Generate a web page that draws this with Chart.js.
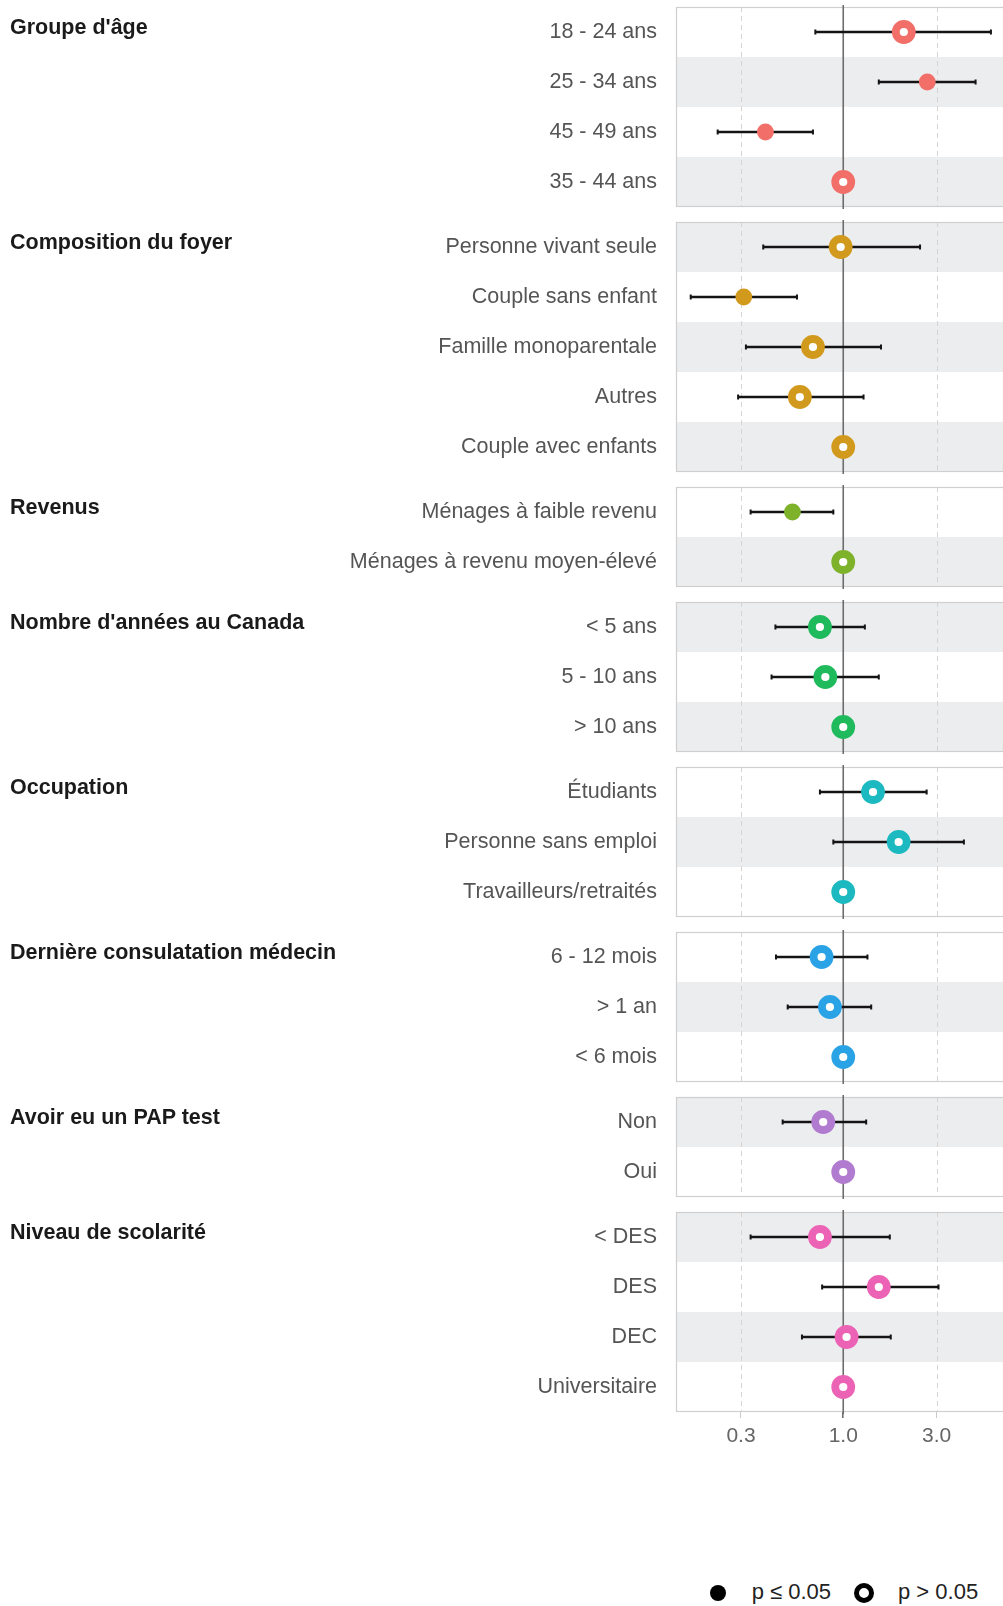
<!DOCTYPE html>
<html>
<head>
<meta charset="utf-8">
<script src="https://cdn.jsdelivr.net/npm/chart.js@4/dist/chart.umd.min.js"></script>
<style>
  html, body { margin: 0; padding: 0; background: #fff; }
  body { width: 1003px; height: 1606px; position: relative; overflow: hidden;
         font-family: "Liberation Sans", Arial, Helvetica, sans-serif; }
  .panel { position: absolute; left: 0; width: 1003px; }
  .panel canvas { display: block; }
  .group-title { position: absolute; left: 10px; font-weight: bold; font-size: 21.5px;
                 line-height: 25px; color: #1a1a1a; white-space: nowrap; }
  .legend-text { position: absolute; font-size: 22px; line-height: 24px; color: #222; white-space: nowrap; }
  .legend-key { position: absolute; border-radius: 50%; box-sizing: border-box; }
</style>
</head>
<body>
<script>
// ---- Group headings ----
const groupTitles = [
  "Groupe d'âge",
  "Composition du foyer",
  "Revenus",
  "Nombre d'années au Canada",
  "Occupation",
  "Dernière consulatation médecin",
  "Avoir eu un PAP test",
  "Niveau de scolarité"
];

// ---- Odds ratios with 95% confidence limits (reference level: no interval) ----
const ageLabels = ['18 - 24 ans', '25 - 34 ans', '45 - 49 ans', '35 - 44 ans'];
const ageRatio  = [2.04, 2.69, 0.40, 1.0];
const ageLow    = [0.72, 1.52, 0.228, null];
const ageHigh   = [5.69, 4.75, 0.70, null];
const ageSignif = [false, true, true, false];

const foyerLabels = ['Personne vivant seule', 'Couple sans enfant', 'Famille monoparentale', 'Autres', 'Couple avec enfants'];
const foyerRatio  = [0.97, 0.31, 0.70, 0.60, 1.0];
const foyerLow    = [0.39, 0.166, 0.318, 0.29, null];
const foyerHigh   = [2.47, 0.58, 1.56, 1.27, null];
const foyerSignif = [false, true, false, false, false];

const revenuLabels = ['Ménages à faible revenu', 'Ménages à revenu moyen-élevé'];
const revenuRatio  = [0.55, 1.0];
const revenuLow    = [0.336, null];
const revenuHigh   = [0.89, null];
const revenuSignif = [true, false];

const canadaLabels = ['< 5 ans', '5 - 10 ans', '> 10 ans'];
const canadaRatio  = [0.76, 0.81, 1.0];
const canadaLow    = [0.45, 0.43, null];
const canadaHigh   = [1.29, 1.52, null];
const canadaSignif = [false, false, false];

const occupLabels = ['Étudiants', 'Personne sans emploi', 'Travailleurs/retraités'];
const occupRatio  = [1.42, 1.92, 1.0];
const occupLow    = [0.76, 0.89, null];
const occupHigh   = [2.67, 4.14, null];
const occupSignif = [false, false, false];

const consultLabels = ['6 - 12 mois', '> 1 an', '< 6 mois'];
const consultRatio  = [0.775, 0.855, 1.0];
const consultLow    = [0.453, 0.52, null];
const consultHigh   = [1.33, 1.39, null];
const consultSignif = [false, false, false];

const papLabels = ['Non', 'Oui'];
const papRatio  = [0.79, 1.0];
const papLow    = [0.49, null];
const papHigh   = [1.31, null];
const papSignif = [false, false];

const scolLabels = ['< DES', 'DES', 'DEC', 'Universitaire'];
const scolRatio  = [0.76, 1.52, 1.04, 1.0];
const scolLow    = [0.336, 0.78, 0.615, null];
const scolHigh   = [1.73, 3.07, 1.75, null];
const scolSignif = [false, false, false, false];

// ---- Axis ticks and legend ----
const xTickValues = [0.3, 1, 3];
const xTickLabels = ['0.3', '1.0', '3.0'];
const legendLabels = ['p ≤ 0.05', 'p > 0.05'];

// ---- Layout / style settings ----
const FONT = '"Liberation Sans", Arial, Helvetica, sans-serif';
const X_MIN = 0.1396, X_MAX = 6.56;   // log-scale limits of the plotting strip
const PLOT_LEFT = 676;
const ROW = 50, GAP = 15, FIRST_TOP = 7, PAD = 3, AXIS_H = 40;
const STRIPE = '#ecedef';

const panels = [
  { title: groupTitles[0], labels: ageLabels,     ratio: ageRatio,     low: ageLow,     high: ageHigh,     signif: ageSignif,     color: '#f26f69', shade: [0, 1, 0, 1] },
  { title: groupTitles[1], labels: foyerLabels,   ratio: foyerRatio,   low: foyerLow,   high: foyerHigh,   signif: foyerSignif,   color: '#d29a1c', shade: [1, 0, 1, 0, 1] },
  { title: groupTitles[2], labels: revenuLabels,  ratio: revenuRatio,  low: revenuLow,  high: revenuHigh,  signif: revenuSignif,  color: '#7db22a', shade: [0, 1] },
  { title: groupTitles[3], labels: canadaLabels,  ratio: canadaRatio,  low: canadaLow,  high: canadaHigh,  signif: canadaSignif,  color: '#1fba5c', shade: [1, 0, 1] },
  { title: groupTitles[4], labels: occupLabels,   ratio: occupRatio,   low: occupLow,   high: occupHigh,   signif: occupSignif,   color: '#1cbac0', shade: [0, 1, 0] },
  { title: groupTitles[5], labels: consultLabels, ratio: consultRatio, low: consultLow, high: consultHigh, signif: consultSignif, color: '#2aa3e6', shade: [0, 1, 0] },
  { title: groupTitles[6], labels: papLabels,     ratio: papRatio,     low: papLow,     high: papHigh,     signif: papSignif,     color: '#b17ccf', shade: [1, 0] },
  { title: groupTitles[7], labels: scolLabels,    ratio: scolRatio,    low: scolLow,    high: scolHigh,    signif: scolSignif,    color: '#ec63b6', shade: [1, 0, 1, 0] }
];

// Background stripes, grid lines, reference line, frame and confidence intervals
function makeDecor(p) {
  return {
    id: 'panelDecor',
    beforeDatasetsDraw(chart) {
      const { ctx, chartArea: a, scales: { x, y } } = chart;
      const n = p.labels.length;
      const h = (a.bottom - a.top) / n;
      ctx.save();
      // alternating row bands
      ctx.fillStyle = STRIPE;
      p.labels.forEach((lab, i) => {
        if (!p.shade[i]) return;
        const yc = y.getPixelForValue(i);
        ctx.fillRect(a.left, yc - h / 2, a.right - a.left, h);
      });
      // dashed vertical grid lines
      ctx.lineWidth = 1;
      ctx.strokeStyle = '#d4d4d4';
      ctx.setLineDash([5, 4]);
      xTickValues.forEach(v => {
        if (v === 1) return;
        const px = Math.round(x.getPixelForValue(v)) + 0.5;
        ctx.beginPath(); ctx.moveTo(px, a.top); ctx.lineTo(px, a.bottom); ctx.stroke();
      });
      ctx.setLineDash([]);
      // frame
      ctx.strokeStyle = '#cfcfcf';
      ctx.lineWidth = 1.2;
      ctx.strokeRect(a.left + 0.5, a.top + 0.5, a.right - a.left, a.bottom - a.top - 1);
      // null-effect reference line
      const p1 = x.getPixelForValue(1);
      ctx.strokeStyle = '#6d6d6d';
      ctx.lineWidth = 1.6;
      ctx.beginPath(); ctx.moveTo(p1, a.top - 2); ctx.lineTo(p1, a.bottom + 2); ctx.stroke();
      // confidence intervals
      ctx.strokeStyle = '#141414';
      p.labels.forEach((lab, i) => {
        if (p.low[i] == null || p.high[i] == null) return;
        const yc = y.getPixelForValue(i);
        const x1 = x.getPixelForValue(p.low[i]);
        const x2 = x.getPixelForValue(p.high[i]);
        ctx.lineWidth = 2.6;
        ctx.beginPath(); ctx.moveTo(x1, yc); ctx.lineTo(x2, yc); ctx.stroke();
        ctx.lineWidth = 2;
        ctx.beginPath();
        ctx.moveTo(x1, yc - 2.6); ctx.lineTo(x1, yc + 2.6);
        ctx.moveTo(x2, yc - 2.6); ctx.lineTo(x2, yc + 2.6);
        ctx.stroke();
      });
      ctx.restore();
    }
  };
}

let rowsBefore = 0;
panels.forEach((p, k) => {
  const last = k === panels.length - 1;
  const n = p.labels.length;
  const top = FIRST_TOP + rowsBefore * ROW + k * GAP;
  const plotH = n * ROW;
  rowsBefore += n;

  const canvasTop = Math.round(top) - PAD;
  const canvasH = Math.round(plotH) + PAD + (last ? AXIS_H : PAD);

  const wrap = document.createElement('div');
  wrap.className = 'panel';
  wrap.style.top = canvasTop + 'px';
  wrap.style.height = canvasH + 'px';
  const cv = document.createElement('canvas');
  cv.width = 1003; cv.height = canvasH;
  cv.style.width = '1003px'; cv.style.height = canvasH + 'px';
  wrap.appendChild(cv);
  document.body.appendChild(wrap);

  const t = document.createElement('div');
  t.className = 'group-title';
  t.style.top = (Math.round(top) + 8) + 'px';
  t.textContent = p.title;
  document.body.appendChild(t);

  new Chart(cv, {
    type: 'scatter',
    data: {
      labels: p.labels,
      datasets: [{
        data: p.labels.map((lab, i) => ({ x: p.ratio[i], y: lab })),
        pointStyle: 'circle',
        pointRadius: p.signif.map(s => s ? 8.4 : 8),
        pointHoverRadius: p.signif.map(s => s ? 8.4 : 8),
        pointBackgroundColor: p.signif.map(s => s ? p.color : '#ffffff'),
        pointBorderColor: p.color,
        pointBorderWidth: p.signif.map(s => s ? 0 : 7.8),
        showLine: false,
        clip: false
      }]
    },
    options: {
      responsive: false,
      animation: false,
      events: [],
      layout: { autoPadding: false, padding: { top: PAD, bottom: last ? 0 : PAD, left: 0, right: 0 } },
      plugins: { legend: { display: false }, tooltip: { enabled: false }, title: { display: false } },
      scales: {
        x: {
          type: 'logarithmic',
          min: X_MIN, max: X_MAX,
          display: last,
          afterBuildTicks: s => { s.ticks = xTickValues.map(v => ({ value: v })); },
          afterFit: s => { s.height = last ? AXIS_H : 0; s.paddingLeft = 0; s.paddingRight = 0; },
          grid: {
            drawOnChartArea: false, drawTicks: true, tickLength: 6,
            color: c => (c.tick && c.tick.value === 1) ? '#6d6d6d' : '#c9c9c9',
            lineWidth: c => (c.tick && c.tick.value === 1) ? 1.6 : 1
          },
          border: { display: false },
          ticks: {
            autoSkip: false, maxRotation: 0, padding: 6,
            callback: (v, i) => xTickLabels[i],
            color: '#666666',
            font: { family: FONT, size: 21 }
          }
        },
        y: {
          type: 'category',
          labels: p.labels,
          offset: true,
          grid: { display: false, drawTicks: false },
          border: { display: false },
          afterFit: s => { s.width = PLOT_LEFT; s.paddingTop = 0; s.paddingBottom = 0; },
          ticks: {
            autoSkip: false, padding: 19,
            color: '#555555',
            font: { family: FONT, size: 21.5 }
          }
        }
      }
    },
    plugins: [makeDecor(p)]
  });
});

// ---- Legend: filled = significant, ring = not significant ----
const LEG_Y = 1593;
const legendItems = [
  { label: legendLabels[0], keyX: 717.7, textX: 751.7, filled: true },
  { label: legendLabels[1], keyX: 864,   textX: 898,   filled: false }
];
legendItems.forEach(it => {
  const key = document.createElement('div');
  key.className = 'legend-key';
  const d = it.filled ? 16 : 20;
  key.style.width = d + 'px';
  key.style.height = d + 'px';
  key.style.left = (it.keyX - d / 2) + 'px';
  key.style.top = (LEG_Y - d / 2) + 'px';
  if (it.filled) key.style.background = '#000';
  else { key.style.border = '5.5px solid #000'; key.style.background = '#fff'; }
  document.body.appendChild(key);
  const tx = document.createElement('div');
  tx.className = 'legend-text';
  tx.style.left = it.textX + 'px';
  tx.style.top = (LEG_Y - 13) + 'px';
  tx.textContent = it.label;
  document.body.appendChild(tx);
});
</script>
</body>
</html>
